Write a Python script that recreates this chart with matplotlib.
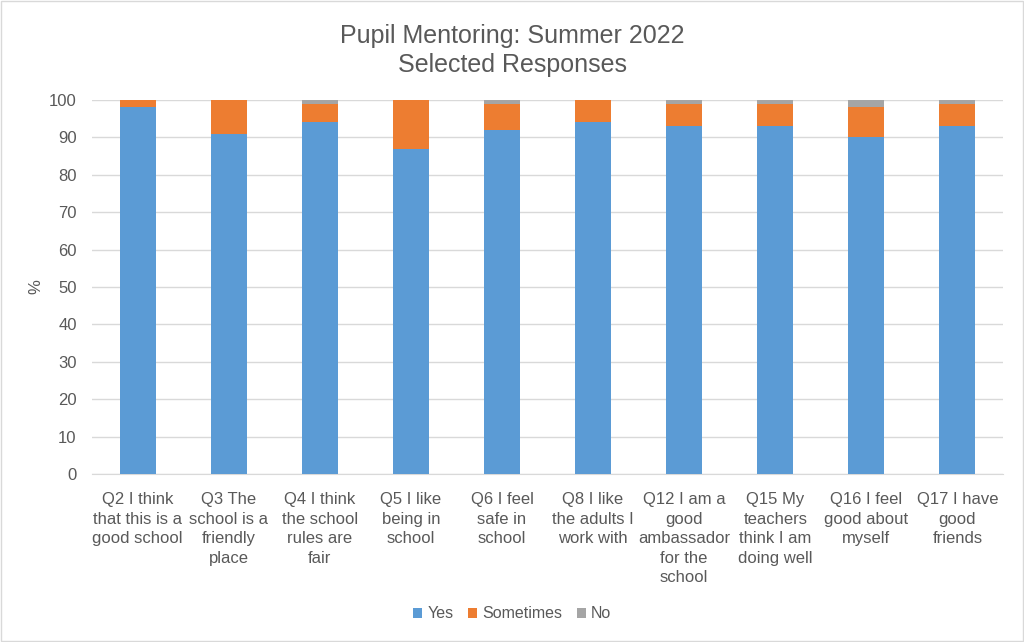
import matplotlib.pyplot as plt
import numpy as np

plt.rcParams['font.family'] = ['Liberation Sans', 'DejaVu Sans']

categories = ["Q2 I think\nthat this is a\ngood school", "Q3 The\nschool is a\nfriendly\nplace",
              "Q4 I think\nthe school\nrules are\nfair", "Q5 I like\nbeing in\nschool",
              "Q6 I feel\nsafe in\nschool", "Q8 I like\nthe adults I\nwork with",
              "Q12 I am a\ngood\nambassador\nfor the\nschool", "Q15 My\nteachers\nthink I am\ndoing well",
              "Q16 I feel\ngood about\nmyself", "Q17 I have\ngood\nfriends"]
yes = [98, 91, 94, 87, 92, 94, 93, 93, 90, 93]
sometimes = [2, 9, 5, 13, 7, 6, 6, 6, 8, 6]
no = [0, 0, 1, 0, 1, 0, 1, 1, 2, 1]

text_col = '#595959'
fig = plt.figure(figsize=(10.24, 6.42), dpi=100)
ax = fig.add_axes([92/1024, 1-474/642, (1003-92)/1024, (474-100)/642])

x = np.arange(len(categories))
w = 0.395
yes_a = np.array(yes)
som_a = np.array(sometimes)
ax.bar(x, yes, w, color='#5b9bd5', label='Yes', zorder=3)
ax.bar(x, sometimes, w, bottom=yes_a, color='#ed7d31', label='Sometimes', zorder=3)
ax.bar(x, no, w, bottom=yes_a + som_a, color='#a5a5a5', label='No', zorder=3)

ax.set_xlim(-0.5, len(categories) - 0.5)
ax.set_ylim(0, 100)
ax.set_yticks(range(0, 101, 10))
ax.grid(axis='y', color='#d9d9d9', linewidth=1, zorder=0)
for s in ['top', 'right', 'left']:
    ax.spines[s].set_visible(False)
ax.spines['bottom'].set_color('#d9d9d9')
ax.tick_params(axis='both', length=0, colors=text_col, labelsize=12)
ax.tick_params(axis='y', pad=11)
ax.tick_params(axis='x', pad=13)
ax.set_xticks(x)
ax.set_xticklabels(categories, linespacing=1.38)
ax.set_ylabel('%', color=text_col, fontsize=12, labelpad=4)

fig.suptitle('Pupil Mentoring: Summer 2022\nSelected Responses', color=text_col,
             fontsize=18, y=0.962, linespacing=1.25)
fig.legend(loc='lower center', bbox_to_anchor=(0.5, 0.01), ncol=3, frameon=False,
           fontsize=11.5, labelcolor=text_col, handlelength=0.6, handleheight=0.6,
           handletextpad=0.3, columnspacing=0.9)

fig.patches.append(plt.Rectangle((0.001, 0.001), 0.998, 0.997, transform=fig.transFigure,
                                 fill=False, edgecolor='#d9d9d9', linewidth=1))
fig.savefig('out.png', dpi=100)
